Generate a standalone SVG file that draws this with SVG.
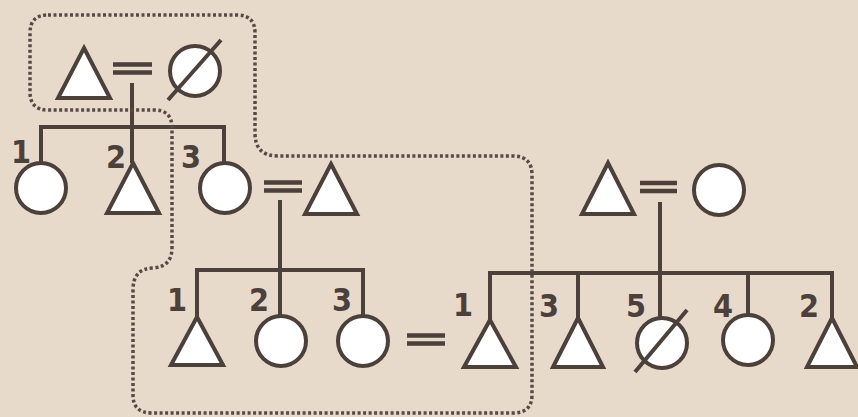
<svg xmlns="http://www.w3.org/2000/svg" width="858" height="417" viewBox="0 0 858 417">
<style>
.bg{fill:#e7dacb}
.sh{fill:#ffffff;stroke:#4b403a;stroke-width:4;stroke-linejoin:miter}
.ln{fill:none;stroke:#4b403a;stroke-width:4}
.eq{fill:none;stroke:#4b403a;stroke-width:4.5}
.dot{fill:none;stroke:#554a44;stroke-width:3.5;stroke-dasharray:3 2.5}
.lb{font-family:"DejaVu Sans Condensed","DejaVu Sans",Verdana,sans-serif;font-stretch:condensed;font-size:32px;font-weight:bold;fill:#4b403a;text-anchor:middle}
</style>
<rect class="bg" x="0" y="0" width="858" height="417"/>
<g id="connectors">
  <path class="eq" d="M113 64.5H152M113 72.5H152"/>
  <path class="eq" d="M264 182.5H302M264 190.5H302"/>
  <path class="eq" d="M407 335.5H445M407 343.5H445"/>
  <path class="eq" d="M640 183H677M640 191H677"/>
  <path class="ln" d="M132 83V163M41 163V127H224V163"/>
  <path class="ln" d="M280 200V270M197 317V270H363V316M280 270V315"/>
  <path class="ln" d="M660 202V318M490 320V273H832V318M578 273V318M748 273V315"/>
</g>
<path id="boundary" class="dot" d="M48 15H237Q255 15 255 33V133Q255 156 278 156H513Q532 156 532 175V395Q532 413 513 413H152Q133 413 133 395V290Q133 268 154 268Q172 266 172 248V128Q172 110 154 110H48Q30 110 30 92V33Q30 15 48 15Z"/>
<g id="g1-father"><polygon class="sh" points="84,48 110,98 58,98"/></g>
<g id="g1-mother"><circle class="sh" cx="195" cy="71" r="25"/><path class="ln" d="M168 100L221 40"/></g>
<g id="g2-1"><circle class="sh" cx="41" cy="188" r="25"/><text class="lb" x="21" y="163">1</text></g>
<g id="g2-2"><polygon class="sh" points="133,163 159,213 107,213"/><text class="lb" x="116" y="168">2</text></g>
<g id="g2-3"><circle class="sh" cx="225" cy="188" r="25"/><text class="lb" x="191" y="168">3</text></g>
<g id="g2-husband"><polygon class="sh" points="331,164 357,214 305,214"/></g>
<g id="g3-1"><polygon class="sh" points="197,317 223,365 171,365"/><text class="lb" x="177" y="311">1</text></g>
<g id="g3-2"><circle class="sh" cx="281" cy="341" r="25"/><text class="lb" x="259" y="311">2</text></g>
<g id="g3-3"><circle class="sh" cx="363" cy="341" r="25"/><text class="lb" x="342" y="311">3</text></g>
<g id="r-father"><polygon class="sh" points="608,163 634,214 582,214"/></g>
<g id="r-mother"><circle class="sh" cx="719" cy="190" r="25"/></g>
<g id="r-1"><polygon class="sh" points="490,320 516,367 464,367"/><text class="lb" x="463" y="316">1</text></g>
<g id="r-3"><polygon class="sh" points="578,318 603,367 553,367"/><text class="lb" x="549" y="317">3</text></g>
<g id="r-5"><circle class="sh" cx="662" cy="343" r="25"/><path class="ln" d="M635 372L687 310"/><text class="lb" x="636" y="317">5</text></g>
<g id="r-4"><circle class="sh" cx="748" cy="340" r="25"/><text class="lb" x="723" y="317">4</text></g>
<g id="r-2"><polygon class="sh" points="832,318 857,367 807,367"/><text class="lb" x="809" y="317">2</text></g>
</svg>
